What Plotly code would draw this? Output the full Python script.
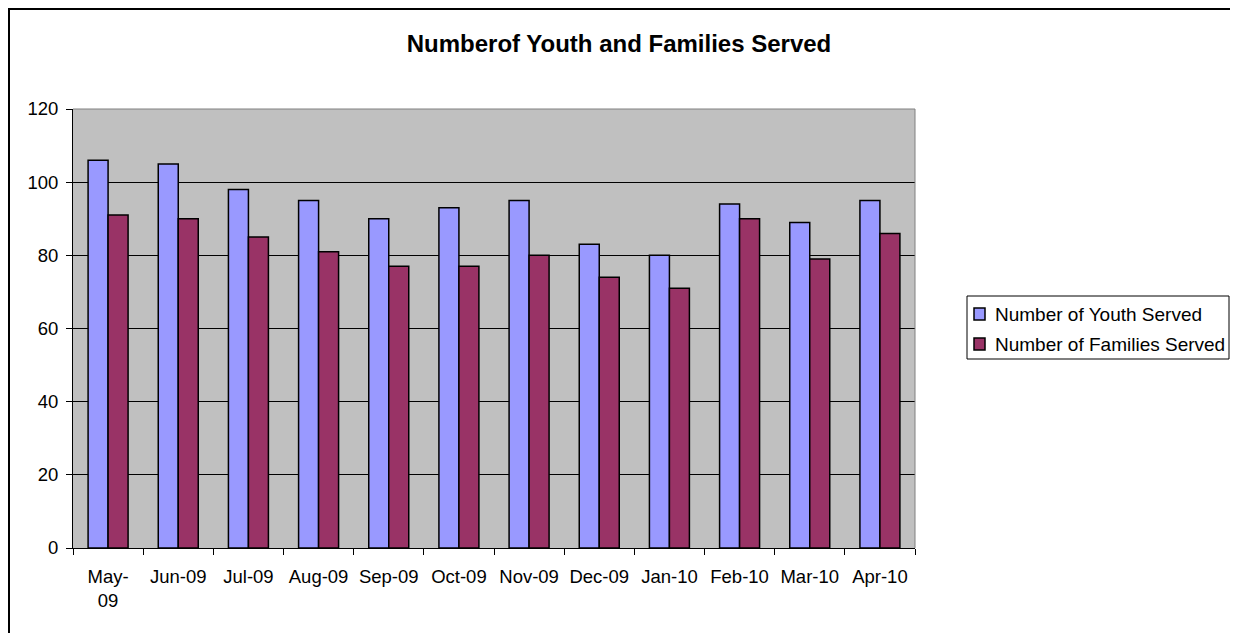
import plotly.graph_objects as go

months = ["May-09", "Jun-09", "Jul-09", "Aug-09", "Sep-09", "Oct-09",
          "Nov-09", "Dec-09", "Jan-10", "Feb-10", "Mar-10", "Apr-10"]
month_labels = ["May-<br>09", "Jun-09", "Jul-09", "Aug-09", "Sep-09", "Oct-09",
                "Nov-09", "Dec-09", "Jan-10", "Feb-10", "Mar-10", "Apr-10"]
youth_served = [106, 105, 98, 95, 90, 93, 95, 83, 80, 94, 89, 95]
families_served = [91, 90, 85, 81, 77, 77, 80, 74, 71, 90, 79, 86]
y_ticks = [0, 20, 40, 60, 80, 100, 120]
series_names = ["Number of Youth Served", "Number of Families Served"]
series_colors = ["#9999FF", "#993366"]

FONT = "Liberation Sans, Arial, sans-serif"

# page offset (default body margin of the html page)
OFF = 8
W, H = 1238 - OFF, 633 - OFF
# plot area in page pixels
L, R, T, B = 73, 915, 109, 548
pw, ph = R - L, B - T


def px(x):
    return (x - L) / pw


def py(y):
    return (B - y) / ph


fig = go.Figure()
for name, vals, col in zip(series_names, [youth_served, families_served], series_colors):
    fig.add_trace(go.Bar(x=months, y=vals, name=name,
                         marker=dict(color=col, line=dict(color="#000000", width=1.5)),
                         showlegend=False))

shapes = [
    # gray top and right borders of plot area
    dict(type="line", xref="paper", yref="paper", x0=0, x1=1, y0=1, y1=1,
         line=dict(color="#808080", width=1), layer="above"),
    dict(type="line", xref="paper", yref="paper", x0=1, x1=1, y0=0, y1=1,
         line=dict(color="#808080", width=1), layer="above"),
    # outer chart frame
    dict(type="rect", xref="paper", yref="paper",
         x0=px(9), x1=px(1232), y0=py(660), y1=py(9),
         line=dict(color="black", width=2), fillcolor="rgba(0,0,0,0)",
         layer="below"),
    # legend box
    dict(type="rect", xref="paper", yref="paper",
         x0=px(967), x1=px(1229), y0=py(359), y1=py(296),
         line=dict(color="black", width=1), fillcolor="white", layer="below"),
]
annotations = []
legend_rows = [314, 344]
for name, col, yc in zip(series_names, series_colors, legend_rows):
    shapes.append(dict(type="rect", xref="paper", yref="paper",
                       x0=px(974), x1=px(985), y0=py(yc + 6), y1=py(yc - 6),
                       line=dict(color="black", width=1.5), fillcolor=col,
                       layer="above"))
    annotations.append(dict(text=name, xref="paper", yref="paper",
                            x=px(993), y=py(yc), xanchor="left", yanchor="middle",
                            showarrow=False,
                            font=dict(family=FONT, size=19, color="black")))

fig.update_layout(
    width=W, height=H,
    margin=dict(l=L - OFF, r=W - (R - OFF), t=T - OFF, b=H - (B - OFF), pad=0),
    paper_bgcolor="white",
    plot_bgcolor="#C0C0C0",
    font=dict(family=FONT, size=18, color="black"),
    title=dict(text="<b>Numberof Youth and Families Served</b>",
               x=(619 - OFF) / W, xref="container", xanchor="center",
               y=1 - (44 - OFF) / H, yref="container", yanchor="middle",
               font=dict(family=FONT, size=24, color="black")),
    barmode="group", bargap=0.43, bargroupgap=0,
    showlegend=False,
    xaxis=dict(tickmode="array", tickvals=months, ticktext=month_labels,
               tickson="boundaries", ticks="outside", ticklen=6, tickcolor="black",
               showline=True, linecolor="black", linewidth=1,
               showgrid=False, tickfont=dict(family=FONT, size=18.5),
               ticklabelstandoff=12),
    yaxis=dict(range=[0, 120], tickvals=y_ticks, ticks="outside", ticklen=6,
               tickcolor="black", showline=True, linecolor="black", linewidth=1,
               showgrid=True, gridcolor="black", gridwidth=1, zeroline=False,
               tickfont=dict(family=FONT, size=18.5), ticklabelstandoff=4),
    shapes=shapes,
    annotations=annotations,
)

fig.write_html("out.html")
